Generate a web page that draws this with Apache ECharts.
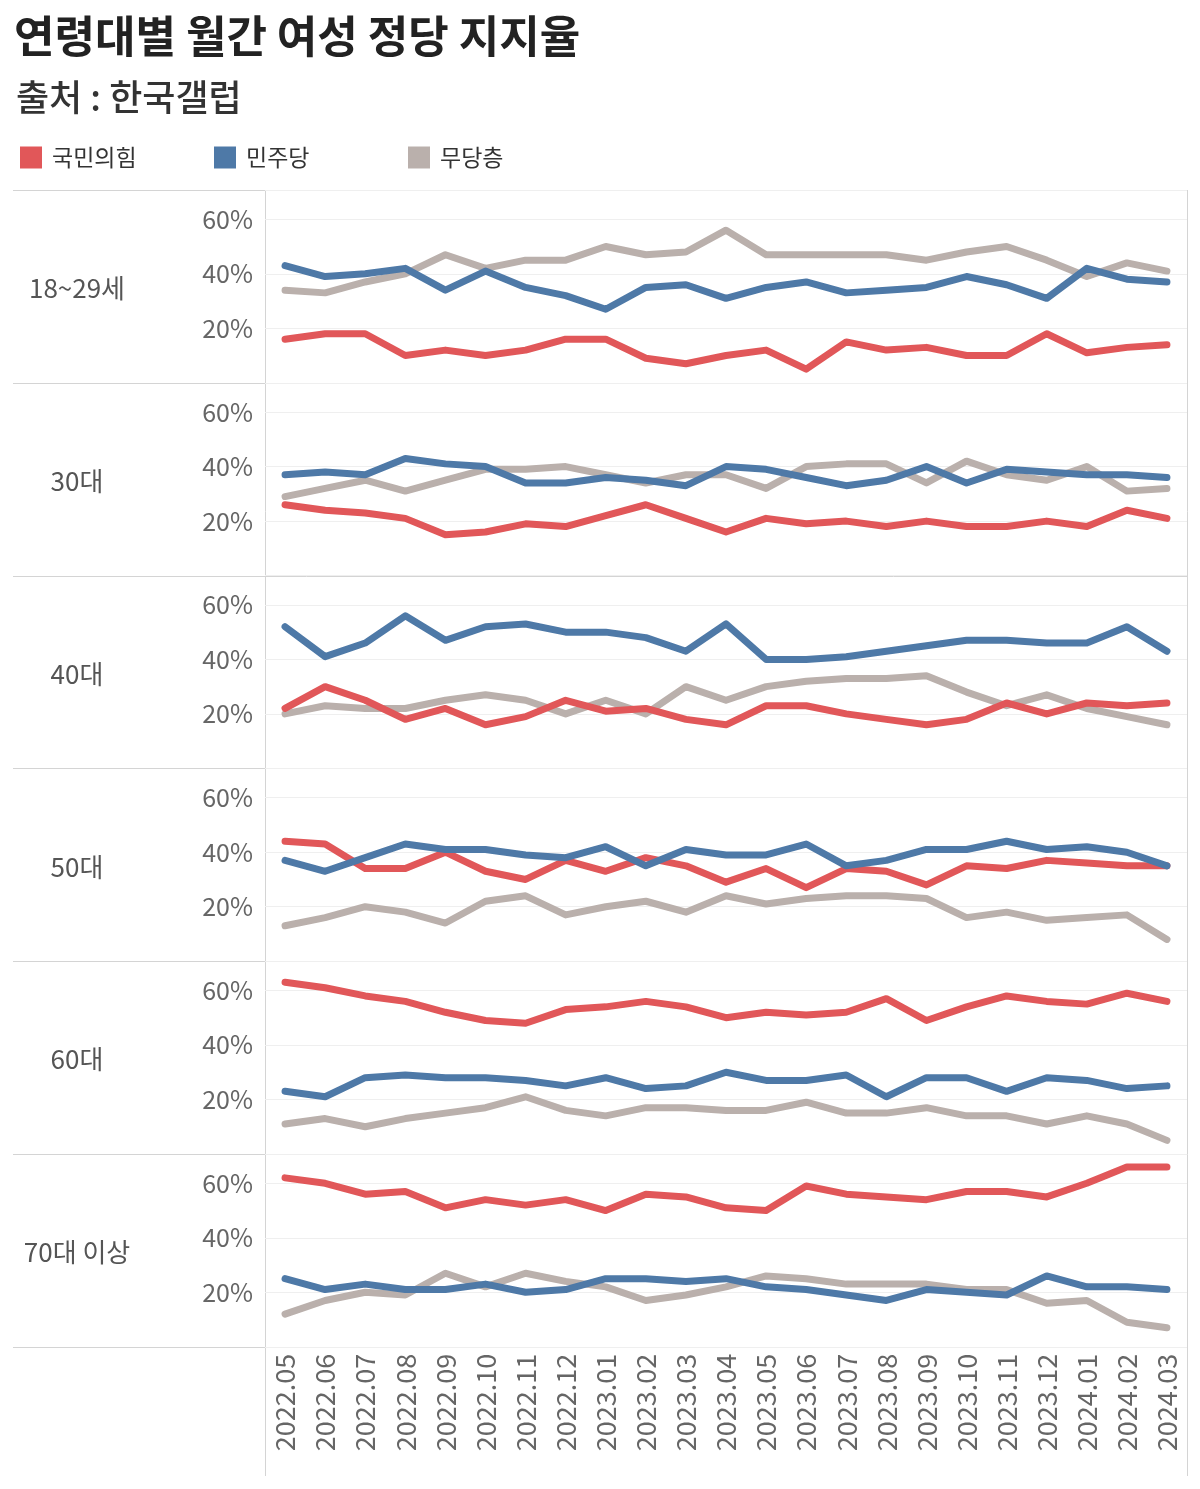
<!DOCTYPE html>
<html><head><meta charset="utf-8">
<script src="https://cdn.jsdelivr.net/npm/echarts@6/dist/echarts.min.js"></script>
<style>html,body{margin:0;padding:0;background:#fff}#c{width:1200px;height:1489px}</style>
</head><body><div id="c"></div>
<script>
const months = ['2022.05','2022.06','2022.07','2022.08','2022.09','2022.10','2022.11','2022.12','2023.01','2023.02','2023.03','2023.04','2023.05','2023.06','2023.07','2023.08','2023.09','2023.10','2023.11','2023.12','2024.01','2024.02','2024.03'];
const ageGroups = ['18~29세','30대','40대','50대','60대','70대 이상'];
const parties = ['국민의힘','민주당','무당층'];
const yTicks = [20, 40, 60];

// 국민의힘
const ppp = [
  [16,18,18,10,12,10,12,16,16,9,7,10,12,5,15,12,13,10,10,18,11,13,14],
  [26,24,23,21,15,16,19,18,22,26,21,16,21,19,20,18,20,18,18,20,18,24,21],
  [22,30,25,18,22,16,19,25,21,22,18,16,23,23,20,18,16,18,24,20,24,23,24],
  [44,43,34,34,40,33,30,37,33,38,35,29,34,27,34,33,28,35,34,37,36,35,35],
  [63,61,58,56,52,49,48,53,54,56,54,50,52,51,52,57,49,54,58,56,55,59,56],
  [62,60,56,57,51,54,52,54,50,56,55,51,50,59,56,55,54,57,57,55,60,66,66]
];
// 민주당
const dem = [
  [43,39,40,42,34,41,35,32,27,35,36,31,35,37,33,34,35,39,36,31,42,38,37],
  [37,38,37,43,41,40,34,34,36,35,33,40,39,36,33,35,40,34,39,38,37,37,36],
  [52,41,46,56,47,52,53,50,50,48,43,53,40,40,41,43,45,47,47,46,46,52,43],
  [37,33,38,43,41,41,39,38,42,35,41,39,39,43,35,37,41,41,44,41,42,40,35],
  [23,21,28,29,28,28,27,25,28,24,25,30,27,27,29,21,28,28,23,28,27,24,25],
  [25,21,23,21,21,23,20,21,25,25,24,25,22,21,19,17,21,20,19,26,22,22,21]
];
// 무당층
const ind = [
  [34,33,37,40,47,42,45,45,50,47,48,56,47,47,47,47,45,48,50,45,39,44,41],
  [29,32,35,31,35,39,39,40,37,34,37,37,32,40,41,41,34,42,37,35,40,31,32],
  [20,23,22,22,25,27,25,20,25,20,30,25,30,32,33,33,34,28,23,27,22,19,16],
  [13,16,20,18,14,22,24,17,20,22,18,24,21,23,24,24,23,16,18,15,16,17,8],
  [11,13,10,13,15,17,21,16,14,17,17,16,16,19,15,15,17,14,14,11,14,11,5],
  [12,17,20,19,27,22,27,24,22,17,19,22,26,25,23,23,23,21,21,16,17,9,7]
];

const colors = {'국민의힘':'#e15759','민주당':'#4e79a7','무당층':'#bab0ac'};
const FONT = '"Noto Sans CJK KR", "Noto Sans", sans-serif';
const TOP = 190, PH = 192.8, LEFT = 265, RIGHT = 1187, LABEL_LEFT = 13;

const grids = [], xAxes = [], yAxes = [], series = [], graphics = [];
ageGroups.forEach((g, i) => {
  const top = TOP + i * PH;
  grids.push({left: LEFT, top: top, width: RIGHT - LEFT, height: PH, containLabel: false});
  const last = i === ageGroups.length - 1;
  xAxes.push({
    type: 'category', gridIndex: i, data: months, boundaryGap: true,
    axisLine: {show: false}, axisTick: {show: false},
    axisLabel: last ? {show: true, rotate: 90, fontSize: 27, color: '#666', fontFamily: FONT, margin: 7} : {show: false},
    splitLine: {show: false}
  });
  yAxes.push({
    type: 'value', gridIndex: i, min: 0, max: 70.75, interval: 20,
    axisLine: {show: false}, axisTick: {show: false},
    axisLabel: {fontSize: 25, color: '#666', fontFamily: FONT, margin: 12,
      formatter: v => yTicks.includes(v) ? v + '%' : ''},
    splitLine: {show: true, lineStyle: {color: '#efefef', width: 1}}
  });
  const mk = (name, data) => ({
    type: 'line', name: name, xAxisIndex: i, yAxisIndex: i, data: data,
    symbol: 'none', lineStyle: {width: 7, color: colors[name], cap: 'round', join: 'round'},
    itemStyle: {color: colors[name]}, silent: true, animation: false
  });
  series.push(mk('무당층', ind[i]));
  series.push(mk('국민의힘', ppp[i]));
  series.push(mk('민주당', dem[i]));
  graphics.push({type: 'text', x: 77, y: top + PH / 2 + 2,
    style: {text: g, fill: '#555', font: '400 26px ' + FONT, textAlign: 'center', textVerticalAlign: 'middle'}});
});
for (let i = 0; i <= ageGroups.length; i++) {
  const y = Math.round(TOP + i * PH) + 0.5;
  graphics.push({type: 'line', shape: {x1: LABEL_LEFT, y1: y, x2: RIGHT, y2: y}, style: {stroke: '#d4d4d4', lineWidth: 1}, z: 0});
}
graphics.push({type: 'line', shape: {x1: LEFT + 0.5, y1: TOP, x2: LEFT + 0.5, y2: 1476}, style: {stroke: '#d4d4d4', lineWidth: 1}});
graphics.push({type: 'line', shape: {x1: RIGHT + 0.5, y1: TOP, x2: RIGHT + 0.5, y2: 1476}, style: {stroke: '#d4d4d4', lineWidth: 1}});

const legendPos = [20, 214, 408];
const legends = parties.map((p, k) => ({
  data: [p], left: legendPos[k], top: 146, padding: 0, icon: 'rect', itemWidth: 22, itemHeight: 22,
  selectedMode: false,
  textStyle: {fontSize: 23, color: '#333', fontFamily: FONT, padding: [0, 0, 0, 5]}
}));

const chart = echarts.init(document.getElementById('c'), null, {renderer: 'canvas'});
chart.setOption({
  animation: false,
  backgroundColor: '#fff',
  title: [
    {text: '연령대별 월간 여성 정당 지지율', left: 14, top: 14, padding: [0,0,0,0],
     textStyle: {fontSize: 44, fontWeight: 'bold', color: '#222', fontFamily: FONT}},
    {text: '출처 : 한국갤럽', left: 16, top: 79, padding: [0,0,0,0],
     textStyle: {fontSize: 36, fontWeight: 500, color: '#333', fontFamily: FONT}}
  ],
  legend: legends,
  grid: grids, xAxis: xAxes, yAxis: yAxes, series: series,
  graphic: graphics
});
</script></body></html>
